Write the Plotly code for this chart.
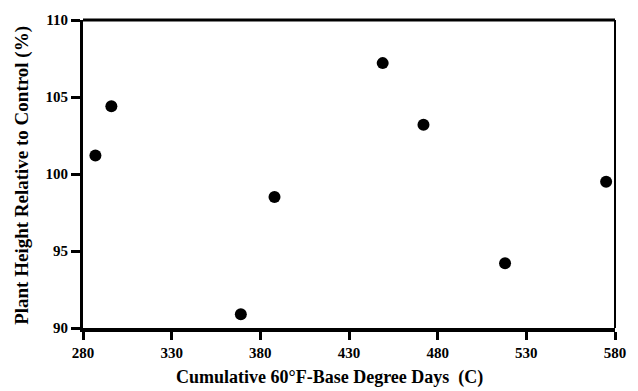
import plotly.graph_objects as go

# Data
degree_days = [287, 296, 369, 388, 449, 472, 518, 575]
height_pct = [101.2, 104.4, 90.9, 98.5, 107.2, 103.2, 94.2, 99.5]

x_ticks = [280, 330, 380, 430, 480, 530, 580]
y_ticks = [90, 95, 100, 105, 110]

x_title = "Cumulative 60°F-Base Degree Days  (C)"
y_title = "Plant Height Relative to Control (%)"

FONT = "Liberation Serif"

fig = go.Figure()
fig.add_trace(go.Scatter(
    x=degree_days, y=height_pct, mode="markers",
    marker=dict(size=12, color="black", line=dict(width=0)),
    showlegend=False, cliponaxis=False,
))

fig.update_layout(
    width=638, height=391,
    margin=dict(l=83, r=15, t=12, b=63),
    paper_bgcolor="white", plot_bgcolor="white",
    font=dict(family=FONT, color="black"),
    xaxis=dict(
        range=[280, 580], tickmode="array", tickvals=x_ticks,
        ticktext=[str(v) for v in x_ticks],
        showgrid=False, zeroline=False,
        showline=True, linecolor="black", linewidth=4,
        ticks="outside", ticklen=8, tickwidth=2.5, tickcolor="black",
        tickfont=dict(family=FONT, size=15, color="black", weight="bold"),
    ),
    yaxis=dict(
        range=[90, 110], tickmode="array", tickvals=y_ticks,
        ticktext=[str(v) for v in y_ticks],
        showgrid=False, zeroline=False,
        showline=True, linecolor="black", linewidth=3,
        ticks="outside", ticklen=9, tickwidth=2.5, tickcolor="black",
        tickfont=dict(family=FONT, size=15, color="black", weight="bold"),
    ),
    shapes=[
        dict(type="line", xref="paper", yref="paper", x0=0, x1=1, y0=1, y1=1,
             line=dict(color="black", width=3)),
        dict(type="line", xref="paper", yref="paper", x0=1, x1=1, y0=0, y1=1,
             line=dict(color="black", width=2)),
    ],
    annotations=[
        dict(text=x_title, xref="paper", yref="paper", x=0.463, y=0,
             yshift=-62, xanchor="center", yanchor="bottom", showarrow=False,
             font=dict(family=FONT, size=18, color="black", weight="bold")),
        dict(text=y_title, xref="paper", yref="paper", x=0, y=0.494,
             xshift=-61, xanchor="center", yanchor="middle", showarrow=False,
             textangle=-90,
             font=dict(family=FONT, size=19, color="black", weight="bold")),
    ],
)

fig.write_html("out.html")
